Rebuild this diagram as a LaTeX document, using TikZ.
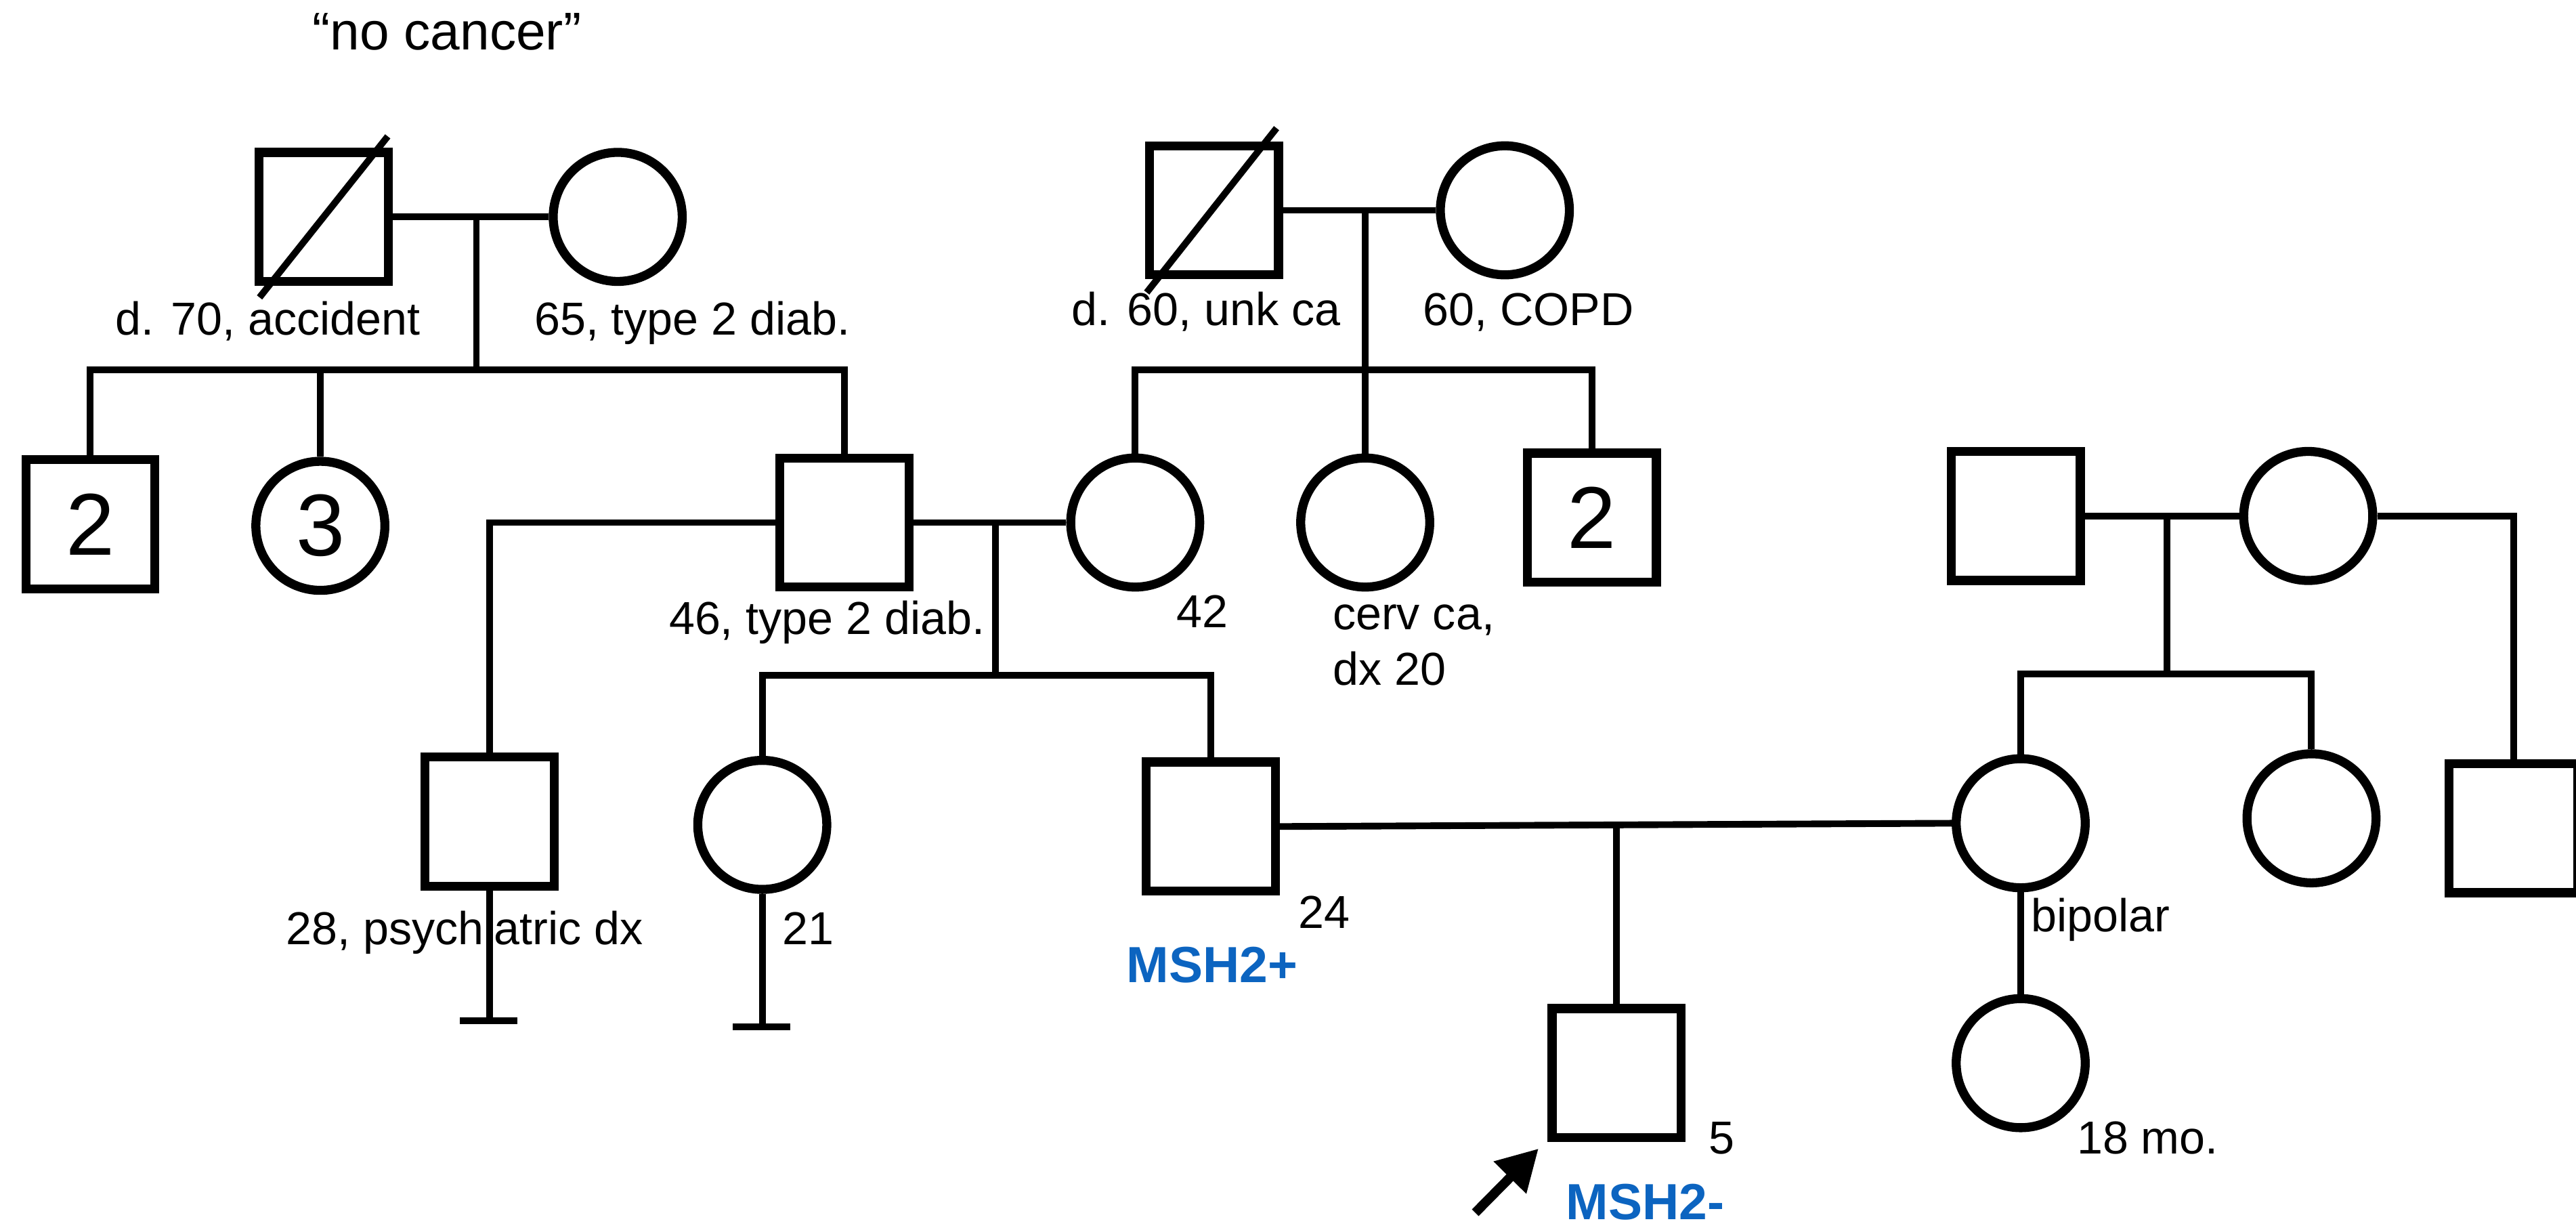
\documentclass[tikz,border=0pt]{standalone}
\usepackage{fontspec}
\setmainfont{Liberation Sans}
\usepackage{tikz}
\usetikzlibrary{arrows.meta, calc}
\definecolor{pedblack}{RGB}{0,0,0}
\definecolor{pedblue}{RGB}{12,100,192}
\tikzset{
  male/.style={rectangle, draw=pedblack, fill=white,
    minimum size=1.963cm, inner sep=0pt, line width=3.9pt,
    font=\fontsize{38}{42}\selectfont},
  female/.style={circle, draw=pedblack, fill=white,
    minimum size=1.963cm, inner sep=0pt, line width=3.9pt,
    font=\fontsize{38}{42}\selectfont},
  conn/.style={line width=2.9pt, color=pedblack},
  lbl/.style={anchor=base west, inner sep=0pt, font=\fontsize{20}{24}\selectfont},
  genelbl/.style={inner sep=0pt, text=pedblue,
    font=\fontsize{22}{26}\selectfont\bfseries},
  probarrow/.style={-{Triangle[length=0.62cm, width=0.66cm]}, line width=4.1pt, color=pedblack}
}

\begin{document}
\begin{tikzpicture}[x=0.025cm, y=-0.025cm]
  \useasboundingbox (0,0) rectangle (1568,747);

  % Paternal grandparents
  \node[male] (gpa) at (197,132) {};
  \node[female] (gma) at (376,132) {};
  \draw[conn] ($(gpa.south west)+(3,7)$) -- ($(gpa.north east)+(-3,-7)$);
  \node[anchor=base, inner sep=0pt, font=\fontsize{23}{27}\selectfont] (nocancer) at (272,30.5) {“no cancer”};
  \node[lbl] at (70,204) {d. 70, accident};
  \node[lbl] at (325,204) {65, type 2 diab.};

  % Maternal grandparents
  \node[male] (gpb) at (739,128) {};
  \node[female] (gmb) at (916,128) {};
  \draw[conn] ($(gpb.south west)+(1,8)$) -- ($(gpb.north east)+(-4,-8)$);
  \node[lbl] at (652,198) {d. 60, unk ca};
  \node[lbl] at (866,198) {60, COPD};

  % Parents' generation
  \node[male] (unclea) at (55,319) {2};
  \node[female] (aunta) at (195,320) {3};
  \node[male] (father) at (514,318) {};
  \node[female] (mother) at (691,318) {};
  \node[female] (auntb) at (831,318) {};
  \node[male] (uncleb) at (969,315) {2};
  \node[lbl] at (407,386) {46, type 2 diab.};
  \node[lbl] at (716,382) {42};
  \node[lbl] at (811,383) {cerv ca,};
  \node[lbl] at (811,417) {dx 20};

  % Partner's parents
  \node[male] (rgpa) at (1227,314) {};
  \node[female] (rgma) at (1405,314) {};

  % Sibship
  \node[male] (halfbro) at (298,500) {};
  \node[female] (sister) at (464,502) {};
  \node[male] (carrier) at (737,503) {};
  \node[female] (partner) at (1230,501) {};
  \node[female] (rsis) at (1407,498) {};
  \node[male] (rbro) at (1530,504) {};
  \node[lbl] at (174,575) {28, psychiatric dx};
  \node[lbl] at (476,575) {21};
  \node[lbl] at (790,565) {24};
  \node[genelbl, anchor=base east] at (790,598) {MSH2+};
  \node[lbl] at (1236,567) {bipolar};

  % Proband and half-sister
  \node[male] (proband) at (984,653) {};
  \node[female] (halfsis) at (1230,647) {};
  \node[lbl] at (1040,702) {5};
  \node[lbl] at (1264,702) {18 mo.};
  \node[genelbl, anchor=base west] at (953,742) {MSH2-};

  % Connectors
  \coordinate (ma) at (290,132);
  \coordinate (sa) at (290,225);
  \draw[conn] (gpa.east) -- (gma.west);
  \draw[conn] (ma) -- (sa);
  \draw[conn] (unclea.north) |- (sa) -| (father.north);
  \draw[conn] (aunta.north) -- (aunta.north |- sa);

  \coordinate (mb) at (831,128);
  \coordinate (sb) at (831,225);
  \draw[conn] (gpb.east) -- (gmb.west);
  \draw[conn] (mb) -- (auntb.north);
  \draw[conn] (mother.north) |- (sb) -| (uncleb.north);

  \coordinate (mc) at (606,318);
  \coordinate (sc) at (606,411);
  \draw[conn] (father.east) -- (mother.west);
  \draw[conn] (mc) -- (sc);
  \draw[conn] (sister.north) |- (sc) -| (carrier.north);
  \draw[conn] (father.west) -| (halfbro.north);

  \coordinate (hbend) at (298,621);
  \coordinate (sisend) at (464,625);
  \draw[conn] (halfbro.south) -- (hbend);
  \draw[conn] ($(hbend)+(-18,0)$) -- ($(hbend)+(17,0)$);
  \draw[conn] (sister.south) -- (sisend);
  \draw[conn] ($(sisend)+(-18,0)$) -- ($(sisend)+(17,0)$);

  \coordinate (md) at (1319,314);
  \coordinate (sd) at (1319,410);
  \draw[conn] (rgpa.east) -- (rgma.west);
  \draw[conn] (md) -- (sd);
  \draw[conn] (partner.north) |- (sd) -| (rsis.north);
  \draw[conn] (rgma.east) -| (rbro.north);

  \coordinate (me) at (proband.north |- carrier.east);
  \draw[conn] (carrier.east) -- (partner.west);
  \draw[conn] (me) -- (proband.north);
  \draw[conn] (partner.south) -- (halfsis.north);

  \coordinate (arrtail) at (898,738);
  \draw[probarrow] (arrtail) -- ($(proband.south west)+(-5.5,4)$);
\end{tikzpicture}
\end{document}
